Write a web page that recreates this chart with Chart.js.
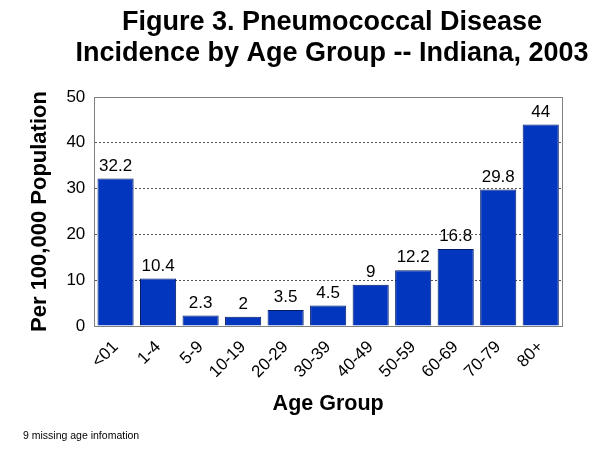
<!DOCTYPE html>
<html>
<head>
<meta charset="utf-8">
<script src="https://cdn.jsdelivr.net/npm/chart.js@4"></script>
<style>
  html, body { margin: 0; padding: 0; background: #fff; }
  #wrap { position: relative; width: 600px; height: 451px; }
</style>
</head>
<body>
<div id="wrap"><canvas id="chart" width="600" height="451"></canvas></div>
<script>
// ================= Data =================
const ageGroups = ["<01","1-4","5-9","10-19","20-29","30-39","40-49","50-59","60-69","70-79","80+"];
const incidence = [32.2, 10.4, 2.3, 2, 3.5, 4.5, 9, 12.2, 16.8, 29.8, 44];
const yTicks = [0, 10, 20, 30, 40, 50];
const titleLines = ["Figure 3. Pneumococcal Disease", "Incidence by Age Group -- Indiana, 2003"];
const footnote = "9 missing age infomation";

const FONT = "Arial, 'Liberation Sans', sans-serif";

// ================= Extra drawing (title, box, value labels, footnote) =================
const extras = {
  id: 'extras',
  afterDatasetsDraw(chart) {
    const ctx = chart.ctx;
    const a = chart.chartArea;
    ctx.save();
    // plot box
    ctx.strokeStyle = '#808080';
    ctx.lineWidth = 1;
    ctx.setLineDash([]);
    ctx.strokeRect(Math.round(a.left) + 0.5, Math.round(a.top) + 0.5,
                   Math.round(a.right - a.left), Math.round(a.bottom - a.top));
    // value labels
    ctx.fillStyle = '#000';
    ctx.font = '17px ' + FONT;
    ctx.textAlign = 'center';
    ctx.textBaseline = 'bottom';
    const meta = chart.getDatasetMeta(0);
    meta.data.forEach((bar, i) => {
      ctx.fillText(String(incidence[i]), bar.x, bar.y - 4);
    });
    // title
    ctx.font = 'bold 27px ' + FONT;
    ctx.textBaseline = 'middle';
    ctx.fillText(titleLines[0], 332, 23);
    ctx.fillText(titleLines[1], 332, 54);
    // footnote
    ctx.font = '10.5px ' + FONT;
    ctx.textAlign = 'left';
    ctx.fillText(footnote, 23, 436);
    ctx.restore();
  }
};

// ================= Chart =================
const ctx1 = document.getElementById('chart').getContext('2d');
const chart1 = new Chart(ctx1, {
  type: 'bar',
  data: {
    labels: ageGroups,
    datasets: [{
      data: incidence,
      backgroundColor: '#0336BE',
      borderColor: '#001a66',
      borderWidth: 1,
      barPercentage: 0.85,
      categoryPercentage: 1.0
    }]
  },
  options: {
    responsive: false,
    animation: false,
    layout: { padding: { top: 97, left: 23, right: 38, bottom: 30 } },
    plugins: {
      legend: { display: false },
      title: { display: false },
      tooltip: { enabled: false }
    },
    scales: {
      x: {
        grid: { display: false },
        border: { color: '#808080' },
        ticks: {
          color: '#000',
          font: { size: 17, family: FONT },
          minRotation: 45,
          maxRotation: 45,
          padding: 3
        },
        title: {
          display: true,
          text: 'Age Group',
          color: '#000',
          font: { size: 21.5, weight: 'bold', family: FONT },
          padding: { top: 6 }
        }
      },
      y: {
        min: yTicks[0],
        max: yTicks[yTicks.length - 1],
        afterBuildTicks: axis => { axis.ticks = yTicks.map(v => ({ value: v })); },
        grid: {
          color: '#555',
          lineWidth: 1,
          drawTicks: false
        },
        border: { color: '#808080', dash: [2, 2] },
        ticks: {
          color: '#000',
          font: { size: 17, family: FONT },
          padding: 9
        },
        title: {
          display: true,
          text: 'Per 100,000 Population',
          color: '#000',
          font: { size: 22, weight: 'bold', family: FONT },
          padding: { bottom: 4 }
        }
      }
    }
  },
  plugins: [extras]
});
</script>
</body>
</html>
